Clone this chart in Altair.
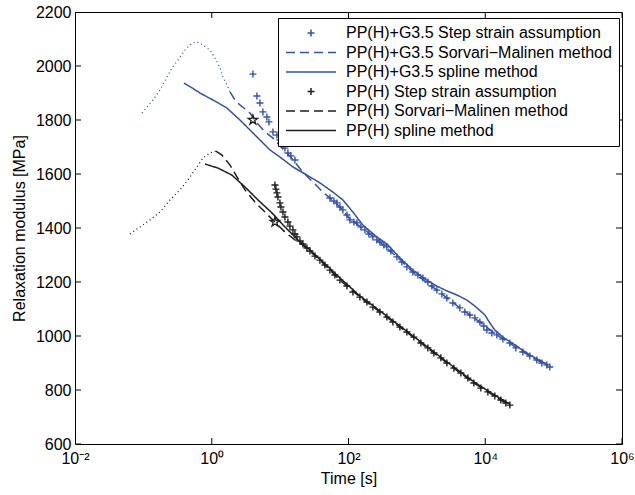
import math
import altair as alt
import pandas as pd

BLUE = "#3452a5"
BLACK = "#1e1e1e"
FONT = "Liberation Sans"

# ---- series names / styles ----
S1 = "PP(H)+G3.5 Step strain assumption"
S2 = "PP(H)+G3.5 Sorvari\u2212Malinen method"
S3 = "PP(H)+G3.5 spline method"
S4 = "PP(H) Step strain assumption"
S5 = "PP(H) Sorvari\u2212Malinen method"
S6 = "PP(H) spline method"
series_names = [S1, S2, S3, S4, S5, S6]
series_colors = [BLUE, BLUE, BLUE, BLACK, BLACK, BLACK]
CROSS = "M-0.14,0H0.14M0,-0.14V0.14"
LINE = "M-1,0H1"
series_shapes = [CROSS, LINE, LINE, CROSS, LINE, LINE]
series_dashes = [[1, 0], [9, 5], [1, 0], [1, 0], [9, 5], [1, 0]]
STAR = "M0,-1L0.2245,-0.309L0.951,-0.309L0.363,0.118L0.588,0.809L0,0.382L-0.588,0.809L-0.363,0.118L-0.951,-0.309L-0.2245,-0.309Z"

# ---- axes ----
x_tick_values = [0.01, 1, 100, 10000, 1000000]
x_tick_labels = ["10\u207b\u00b2", "10\u2070", "10\u00b2", "10\u2074", "10\u2076"]
y_tick_values = [600, 800, 1000, 1200, 1400, 1600, 1800, 2000, 2200]

# ---- data (time in s, modulus in MPa) ----
blue_ss_t = [4.00, 4.58, 5.07, 5.60, 6.41, 6.86, 7.85, 8.98, 9.93, 11.0, 11.75, 13.0, 14.38, 16.46,
             53.5, 61.2, 67.7, 74.9, 82.8, 94.8, 104.8, 120, 132.7, 151.8,
             173.7, 198.7, 227.4, 260.2, 287.8, 329.3, 364.2, 416.8, 510.1, 603.4,
             714.2, 874.2, 1034, 1224, 1448, 1657, 1961, 2320, 2746, 3361,
             4254, 5034, 5955, 7047, 8339, 9541, 10550, 12490, 14780, 18090,
             22890, 28020, 35460, 44890, 56810, 67220, 79540, 88000]
blue_ss_E = [1970, 1889, 1863, 1830, 1811, 1793, 1756, 1744, 1726, 1707, 1696, 1678, 1667, 1652,
             1511, 1500, 1493, 1478, 1467, 1448, 1430, 1422, 1419, 1404,
             1393, 1378, 1367, 1356, 1348, 1337, 1330, 1315, 1293, 1274,
             1256, 1237, 1226, 1215, 1200, 1185, 1170, 1156, 1141, 1122,
             1104, 1089, 1078, 1067, 1052, 1037, 1022, 1011, 1004, 989,
             974, 956, 941, 926, 911, 900, 893, 885]

blue_sm_t = [1.85, 2.18, 2.58, 3.62, 4.58, 6.00, 7.85, 9.93, 13.9, 21.5, 30.2, 42.2, 53.5, 74.9,
             105, 174, 288, 510, 874, 1961, 4254, 8339, 14780, 35460, 82270]
blue_sm_E = [1904, 1874, 1856, 1826, 1789, 1756, 1733, 1704, 1667, 1607, 1570, 1533, 1511, 1478,
             1433, 1393, 1348, 1293, 1237, 1170, 1104, 1052, 1004, 941, 889]

blue_dot_t = [0.0954, 0.138, 0.175, 0.221, 0.262, 0.321, 0.406, 0.514, 0.608, 0.744, 0.941,
              1.11, 1.32, 1.46, 1.67, 1.85]
blue_dot_E = [1826, 1874, 1911, 1959, 1993, 2022, 2059, 2085, 2089, 2078, 2059,
              2030, 1993, 1959, 1930, 1904]

blue_sp_t = [0.392, 0.514, 0.672, 1.04, 1.67, 2.58, 3.62, 5.07, 7.10, 9.93, 15.4, 24.7, 38.2, 59.2,
             82.8, 116, 162, 260, 364, 564, 874, 1309, 1961, 2746, 3845, 5383, 7047, 9867,
             11680, 13820, 18090, 27090, 44890, 82270]
blue_sp_E = [1937, 1919, 1900, 1874, 1844, 1800, 1763, 1726, 1689, 1663, 1626, 1596, 1567, 1533,
             1504, 1459, 1411, 1367, 1341, 1289, 1244, 1211, 1185, 1167, 1152, 1133, 1111, 1078,
             1048, 1022, 996, 967, 930, 893]

black_ss_t = [8.40, 8.68, 8.98, 9.29, 9.93, 10.27, 11.0, 11.75, 13.0, 13.91, 15.39, 16.46, 17.61,
              19.48, 21.55, 24.65, 27.27, 32.27, 38.18, 45.19, 53.47, 63.27, 74.86, 94.76, 116.0,
              146.8, 185.8, 227.4, 287.8, 364.2, 445.9, 564.2, 714.2, 904.1, 1144, 1448, 1773,
              2243, 2746, 3475, 4399, 5568, 6813, 8625, 10920, 13820, 16910, 20010, 22890]
black_ss_E = [1559, 1544, 1530, 1515, 1493, 1478, 1459, 1441, 1422, 1407, 1393, 1378, 1367,
              1352, 1341, 1326, 1315, 1296, 1281, 1263, 1244, 1226, 1207, 1185, 1163,
              1144, 1126, 1107, 1089, 1070, 1052, 1033, 1015, 996, 974, 956, 937,
              919, 900, 881, 863, 844, 826, 807, 793, 778, 763, 752, 744]

black_dot_t = [0.0637, 0.0892, 0.125, 0.175, 0.245, 0.343, 0.449, 0.608, 0.744, 0.941, 1.15]
black_dot_E = [1378, 1404, 1430, 1459, 1504, 1541, 1578, 1626, 1659, 1678, 1685]

black_sm_t = [1.15, 1.41, 1.85, 2.34, 3.06, 4.28, 6.00, 8.40, 11.75, 16.46, 21.55, 38.18, 74.86,
              146.8, 287.8, 564.2, 1144, 2746, 6813, 16910, 22890]
black_sm_E = [1685, 1670, 1633, 1589, 1541, 1496, 1459, 1422, 1385, 1356, 1337, 1281, 1207,
              1144, 1089, 1033, 974, 900, 826, 763, 744]

black_sp_t = [0.795, 1.23, 1.97, 3.06, 4.74, 7.59, 11.75, 18.21, 27.27, 38.18, 74.86, 146.8,
              287.8, 564.2, 1144, 2746, 6813, 16910, 22890]
black_sp_E = [1637, 1622, 1596, 1552, 1504, 1456, 1404, 1356, 1319, 1285, 1215, 1148,
              1093, 1037, 978, 904, 830, 767, 748]

blue_star_t = [4.00]
blue_star_E = [1800]
black_star_t = [8.40]
black_star_E = [1422]


def frame(t, e, name):
    return pd.DataFrame({"t": t, "E": e, "series": name})


pts_df = pd.concat([frame(blue_ss_t, blue_ss_E, S1), frame(black_ss_t, black_ss_E, S4)])
lines_df = pd.concat([frame(blue_sm_t, blue_sm_E, S2), frame(blue_sp_t, blue_sp_E, S3),
                      frame(black_sm_t, black_sm_E, S5), frame(black_sp_t, black_sp_E, S6)])
bdot_df = frame(blue_dot_t, blue_dot_E, "b")
kdot_df = frame(black_dot_t, black_dot_E, "k")
stars_df = pd.concat([frame(blue_star_t, blue_star_E, "b"), frame(black_star_t, black_star_E, "k")])
xt_df = pd.DataFrame({"t": x_tick_values})
yt_df = pd.DataFrame({"E": y_tick_values})

W, H = 547, 432

xscale = alt.Scale(type="log", domain=[0.01, 1e6], nice=False)
yscale = alt.Scale(domain=[600, 2200], nice=False, zero=False)

expr = ""
for i in range(len(x_tick_values) - 1):
    mid = math.sqrt(x_tick_values[i] * x_tick_values[i + 1])
    expr += f"datum.value < {mid} ? '{x_tick_labels[i]}' : "
expr += f"'{x_tick_labels[-1]}'"

common = dict(grid=False, labelFont=FONT, titleFont=FONT, labelFontSize=16, titleFontSize=16,
              labelColor="black", titleColor="black", titleFontWeight="normal")

x_label_axis = alt.Axis(orient="bottom", values=x_tick_values, labelExpr=expr, ticks=False,
                        domain=False, title="Time [s]", labelPadding=6, labelFlush=False,
                        titlePadding=4, **common)
y_label_axis = alt.Axis(orient="left", values=y_tick_values, ticks=False, domain=False,
                        format="d", title="Relaxation modulus [MPa]", labelPadding=4,
                        titlePadding=8, **common)

leg = alt.Legend(orient="none", legendX=203, legendY=6, title=None, strokeColor="black",
                 fillColor="white", padding=7, rowPadding=3.5, symbolSize=2500, clipHeight=16,
                 symbolStrokeWidth=1.5, labelFont=FONT, labelFontSize=16, labelColor="black",
                 labelOffset=9, zindex=1, labelLimit=400)

color_enc = alt.Color("series:N", scale=alt.Scale(domain=series_names, range=series_colors), legend=leg)
shape_enc = alt.Shape("series:N", scale=alt.Scale(domain=series_names, range=series_shapes), legend=leg)
dash_enc = alt.StrokeDash("series:N", scale=alt.Scale(domain=series_names, range=series_dashes), legend=leg)

X = lambda ax=None: alt.X("t:Q", scale=xscale, axis=ax)
Y = lambda ax=None: alt.Y("E:Q", scale=yscale, axis=ax)

pts = alt.Chart(pts_df).mark_point(filled=False, size=2500, strokeWidth=1.4, opacity=1).encode(
    x=X(x_label_axis), y=Y(y_label_axis), color=color_enc, shape=shape_enc,
)

lines = alt.Chart(lines_df).mark_line(strokeWidth=1.5).encode(
    x=X(), y=Y(), color=color_enc, strokeDash=dash_enc,
)

bdot = alt.Chart(bdot_df).mark_line(strokeWidth=1.3, strokeDash=[1, 3], color=BLUE).encode(x=X(), y=Y())
kdot = alt.Chart(kdot_df).mark_line(strokeWidth=1.3, strokeDash=[1, 3], color=BLACK).encode(x=X(), y=Y())
stars = alt.Chart(stars_df).mark_point(shape=STAR, size=100, filled=False, strokeWidth=1.3,
                                       color=BLACK, opacity=1).encode(x=X(), y=Y())

# inward tick marks on all four sides (clipped at the frame)
tick_kw = dict(size=12, thickness=1, color="black", clip=True, opacity=1)
xt_bottom = alt.Chart(xt_df).mark_tick(orient="vertical", **tick_kw).encode(x=X(), y=alt.value(H))
xt_top = alt.Chart(xt_df).mark_tick(orient="vertical", **tick_kw).encode(x=X(), y=alt.value(0))
yt_left = alt.Chart(yt_df).mark_tick(orient="horizontal", **tick_kw).encode(y=Y(), x=alt.value(0))
yt_right = alt.Chart(yt_df).mark_tick(orient="horizontal", **tick_kw).encode(y=Y(), x=alt.value(W))

chart = alt.layer(xt_bottom, xt_top, yt_left, yt_right, pts, lines, bdot, kdot, stars).resolve_axis(
    x="independent", y="independent"
).properties(
    width=W, height=H, autosize=alt.AutoSizeParams(type="none"),
    padding={"left": 75, "top": 12, "right": 13, "bottom": 51},
    background="white",
).configure_view(stroke="black", strokeWidth=1)

chart.save("out.html", embed_options={"renderer": "svg", "actions": False})
